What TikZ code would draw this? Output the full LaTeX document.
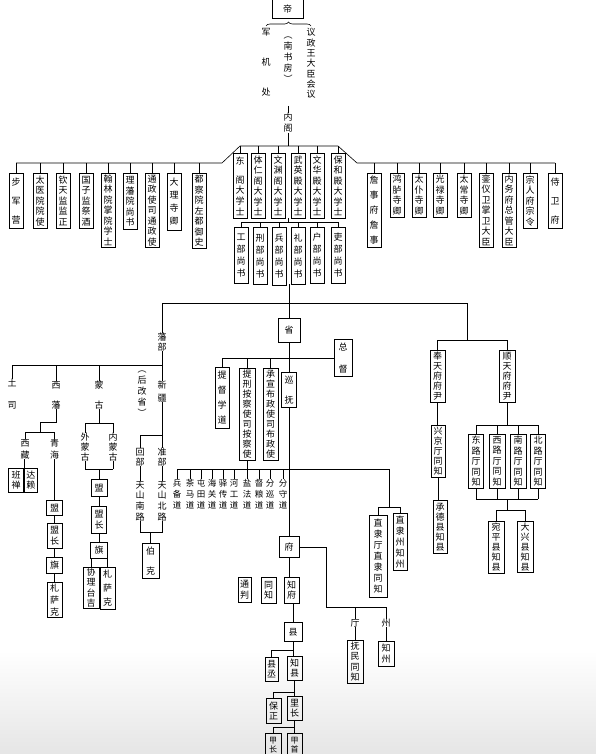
\documentclass[tikz,border=0pt]{standalone}
\usepackage{fontspec}
\newfontfamily\zh{Noto Sans CJK SC}
\usetikzlibrary{positioning,decorations.pathreplacing}
\tikzset{
  link/.style={draw=black,line width=.6pt},
  box/.style={draw=black,line width=.6pt,inner sep=0pt,minimum width=14pt,
              align=center,anchor=north,font=\zh\fontsize{9}{10.5}\selectfont},
  tag/.style={inner sep=0pt,align=center,font=\zh\fontsize{9}{10.5}\selectfont},
  pitch/.style={font=\zh\fontsize{9}{#1}\selectfont},
  daotag/.style={inner sep=0pt,align=center,font=\zh\fontsize{8.5}{11}\selectfont},
  topbrace/.style={decorate,decoration={brace,amplitude=4pt},line width=.6pt},
}
\begin{document}
\begin{tikzpicture}[x=1pt,y=-1pt]
  \useasboundingbox (0,0) rectangle (596,754);
  \clip (0,0) rectangle (596,754);
  \shade[top color=white,bottom color=black!10] (0,650) rectangle (596,754);

  % emperor and councils
  \node[box,minimum width=31pt,minimum height=19pt] (di) at (287.5,-1) {帝};
  \coordinate (brL) at (266,26);
  \coordinate (brR) at (311,26);
  \draw[topbrace] (brL) -- (brR);
  \node[tag,pitch=30pt] (jjc) at (266,62) {军\\机\\处};
  \node[tag,pitch=11pt] (nsf) at (288,60) {︵\\南\\书\\房\\︶};
  \node[tag,pitch=10.3pt] (yzw) at (311,63.5) {议\\政\\王\\大\\臣\\会\\议};
  \node[tag,pitch=11pt] (nei) at (288,123) {内\\阁};
  \coordinate (neiTop) at (288,106);
  \draw[link] (neiTop) -- (nei.north);

  \coordinate (busT) at (0,146);
  \coordinate (busW) at (0,163);
  \coordinate (busL) at (0,222);
  \coordinate (kinkL) at (222,163);
  \coordinate (kinkR) at (357,163);

  % capital offices, left
  \node[box,minimum height=55pt,pitch=19pt] (bjy) at (16,173) {步\\军\\营};
  \node[box,minimum height=55pt] (tyy) at (40,173) {太\\医\\院\\院\\使};
  \node[box,minimum height=55pt] (qtj) at (63,173) {钦\\天\\监\\监\\正};
  \node[box,minimum height=55pt] (gzj) at (86,173) {国\\子\\监\\祭\\酒};
  \node[box,minimum height=74pt] (hly) at (108,173) {翰\\林\\院\\掌\\院\\学\\士};
  \node[box,minimum height=56pt] (lfy) at (130,173) {理\\藩\\院\\尚\\书};
  \node[box,minimum height=74pt] (tzs) at (152,173) {通\\政\\使\\司\\通\\政\\使};
  \node[box,minimum height=57pt,pitch=13pt] (dls) at (174,173) {大\\理\\寺\\卿};
  \node[box,minimum height=75pt] (dcy) at (199,173) {都\\察\\院\\左\\都\\御\\史};

  % grand secretaries
  \node[box,minimum height=65pt] (dg) at (240,153) {东\\[9pt]阁\\大\\学\\士};
  \node[box,minimum height=65pt] (trg) at (258,153) {体\\仁\\阁\\大\\学\\士};
  \node[box,minimum height=65pt] (wyg) at (278,153) {文\\渊\\阁\\大\\学\\士};
  \node[box,minimum height=65pt] (wyd) at (298,153) {武\\英\\殿\\大\\学\\士};
  \node[box,minimum height=65pt] (whd) at (317,153) {文\\华\\殿\\大\\学\\士};
  \node[box,minimum height=65pt] (bhd) at (338,153) {保\\和\\殿\\大\\学\\士};

  % six boards
  \node[box,minimum height=56pt,pitch=12pt] (gb) at (241,227) {工\\部\\尚\\书};
  \node[box,minimum height=57pt,pitch=12pt] (xb) at (260,227) {刑\\部\\尚\\书};
  \node[box,minimum height=58pt,pitch=12pt] (bb) at (279,227) {兵\\部\\尚\\书};
  \node[box,minimum height=57pt,pitch=12pt] (lb) at (298,227) {礼\\部\\尚\\书};
  \node[box,minimum height=56pt,pitch=12pt] (hb) at (317,227) {户\\部\\尚\\书};
  \node[box,minimum height=56pt,pitch=12pt] (lib) at (338,227) {吏\\部\\尚\\书};

  % capital offices, right
  \node[box,minimum height=74pt,pitch=15pt] (zsf) at (374,173) {詹\\事\\府\\詹\\事};
  \node[box,minimum height=44pt] (hlg) at (397,173) {鸿\\胪\\寺\\卿};
  \node[box,minimum height=44pt] (tps) at (419,173) {太\\仆\\寺\\卿};
  \node[box,minimum height=44pt] (gls) at (440,173) {光\\禄\\寺\\卿};
  \node[box,minimum height=44pt] (tcs) at (464,173) {太\\常\\寺\\卿};
  \node[box,minimum height=74pt] (lyw) at (486,173) {銮\\仪\\卫\\掌\\卫\\大\\臣};
  \node[box,minimum height=74pt] (nwf) at (509,173) {内\\务\\府\\总\\管\\大\\臣};
  \node[box,minimum height=55pt] (zrf) at (530,173) {宗\\人\\府\\宗\\令};
  \node[box,minimum height=55pt,pitch=19pt] (swf) at (555,173) {侍\\卫\\府};

  \draw[link] (bjy.north |- busW) -- (kinkL) -- (dg.north |- busT)
      -- (bhd.north |- busT) -- (kinkR) -- (swf.north |- busW);
  \foreach \n in {bjy,tyy,qtj,gzj,hly,lfy,tzs,dls,dcy,zsf,hlg,tps,gls,tcs,lyw,nwf,zrf,swf}
    \draw[link] (\n.north) -- (\n.north |- busW);
  \foreach \n in {dg,trg,wyg,wyd,whd,bhd}
    \draw[link] (\n.north) -- (\n.north |- busT);
  \draw[link] (nei.south) -- (nei.south |- busT);
  \coordinate (gsFoot) at (288,218);
  \draw[link] (gsFoot) -- (gsFoot |- busL);
  \draw[link] (gb.north |- busL) -- (lib.north |- busL);
  \foreach \n in {gb,xb,bb,lb,hb,lib}
    \draw[link] (\n.north) -- (\n.north |- busL);

  % provinces and dependencies
  \coordinate (hub) at (289,284);
  \coordinate (lbL) at (162,303);
  \coordinate (lbR) at (467,303);
  \draw[link] (lbL) -- (lbR);
  \node[box,minimum width=22pt,minimum height=24pt] (sheng) at (289,318) {省};
  \draw[link] (hub) -- (sheng.north);

  % dependencies
  \node[tag,pitch=10pt] (fanbu) at (162,342) {藩\\部};
  \draw[link] (lbL) -- (fanbu.north);
  \coordinate (fbBus) at (0,365);
  \node[tag,pitch=22pt] (tusi) at (12,394) {土\\司};
  \node[tag,pitch=20pt] (xifan) at (56,395) {西\\藩};
  \node[tag,pitch=20pt] (menggu) at (99,395) {蒙\\古};
  \node[tag,pitch=11pt] (hgs) at (142,394) {︵\\后\\改\\省\\︶};
  \node[tag,pitch=13pt] (xinjiang) at (162,391.5) {新\\疆};
  \draw[link] (fanbu.south) -- (xinjiang.north);
  \draw[link] (tusi.north |- fbBus) -- (fanbu.south |- fbBus);
  \foreach \n in {tusi,xifan,menggu}
    \draw[link] (\n.north) -- (\n.north |- fbBus);

  \coordinate (xfKnee) at (40,422);
  \coordinate (xfBus) at (0,432);
  \draw[link] (xifan.south) |- (xfKnee) -- (xfKnee |- xfBus);
  \node[tag,pitch=12pt] (xizang) at (25,449) {西\\藏};
  \node[tag,pitch=12pt] (qinghai) at (54.5,449) {青\\海};
  \draw[link] (xizang.north |- xfBus) -- (qinghai.north |- xfBus);
  \foreach \n in {xizang,qinghai}
    \draw[link] (\n.north) -- (\n.north |- xfBus);
  \node[box,minimum width=15pt,minimum height=24pt,anchor=north east] (bc) at (24,468) {班\\禅};
  \node[box,minimum width=13pt,minimum height=24pt,anchor=north west] (dl) at (24,468) {达\\赖};
  \draw[link] (bc.north east |- xizang.south) -- (bc.north east);
  \node[box,minimum width=16pt,minimum height=15pt] (m1) at (54.5,500) {盟};
  \node[box,minimum width=15pt,minimum height=25pt] (mz1) at (54.5,523) {盟\\长};
  \node[box,minimum width=16pt,minimum height=16pt] (q1) at (54.5,557) {旗};
  \node[box,minimum width=15pt,minimum height=35pt,pitch=12pt] (zsk1) at (54.5,582) {札\\萨\\克};
  \draw[link] (qinghai.south) -- (m1.north);
  \draw[link] (m1) -- (mz1);
  \draw[link] (mz1) -- (q1);
  \draw[link] (q1) -- (zsk1);

  \coordinate (mgBus) at (0,423);
  \coordinate (mgFoot) at (0,469);
  \node[tag,pitch=10pt] (wmg) at (85,447) {外\\蒙\\古};
  \node[tag,pitch=10pt] (nmg) at (113,447) {内\\蒙\\古};
  \draw[link] (menggu.south) -- (menggu.south |- mgBus);
  \draw[link] (wmg.north |- mgBus) -- (nmg.north |- mgBus);
  \foreach \n in {wmg,nmg} {
    \draw[link] (\n.north) -- (\n.north |- mgBus);
    \draw[link] (\n.south) -- (\n.south |- mgFoot);
  }
  \draw[link] (wmg.south |- mgFoot) -- (nmg.south |- mgFoot);
  \node[box,minimum width=16pt,minimum height=17pt] (m2) at (99,479) {盟};
  \draw[link] (menggu.south |- mgFoot) -- (m2.north);
  \node[box,minimum width=15pt,minimum height=27pt] (mz2) at (99,506) {盟\\长};
  \node[box,minimum width=17pt,minimum height=16pt] (q2) at (99,542) {旗};
  \node[box,minimum width=16pt,minimum height=41pt] (xltj) at (91,567) {协\\理\\台\\吉};
  \node[box,minimum width=15pt,minimum height=42pt,pitch=14pt] (zsk2) at (107.5,567) {札\\萨\\克};
  \draw[link] (m2) -- (mz2);
  \draw[link] (mz2) -- (q2);
  \foreach \n in {xltj,zsk2}
    \draw[link] (\n.north |- q2.south) -- (\n.north);

  \coordinate (xjBus) at (0,435);
  \coordinate (xjFoot) at (0,532);
  \node[tag,pitch=10pt] (huibu) at (140,457) {回\\部};
  \node[tag,pitch=10pt] (zhunbu) at (162,457) {准\\部};
  \draw[link] (xinjiang.south) -- (zhunbu.north);
  \draw[link] (huibu.north) -- (huibu.north |- xjBus) -- (zhunbu.north |- xjBus);
  \node[tag,pitch=10.7pt] (tsnl) at (140,501) {天\\山\\南\\路};
  \node[tag,pitch=10.7pt] (tsbl) at (162,501) {天\\山\\北\\路};
  \draw[link] (huibu) -- (tsnl);
  \draw[link] (zhunbu) -- (tsbl);
  \draw[link] (tsnl.south) -- (tsnl.south |- xjFoot) -- (tsbl.south |- xjFoot) -- (tsbl.south);
  \node[box,minimum width=17pt,minimum height=35pt,pitch=20pt] (bk) at (150.5,543) {伯\\克};
  \draw[link] (bk.north |- xjFoot) -- (bk.north);

  % province
  \node[box,minimum width=18pt,minimum height=37pt,pitch=22pt,anchor=center] (zd) at (343,358) {总\\督};
  \node[box,minimum height=61pt,pitch=15pt] (tdx) at (222,367) {提\\督\\学\\道};
  \node[box,minimum width=16pt,minimum height=92pt,pitch=10pt] (txa) at (247,368) {提\\刑\\按\\察\\使\\司\\按\\察\\使};
  \node[box,minimum width=15pt,minimum height=92pt,pitch=10pt] (cxb) at (270.5,368) {承\\宣\\布\\政\\使\\司\\布\\政\\使};
  \node[box,minimum width=15pt,minimum height=35pt,pitch=20pt] (xf) at (289,372) {巡\\抚};
  \draw[link] (sheng) -- (xf);
  \draw[link] (tdx.north |- zd.west) -- (zd.west);
  \foreach \n in {tdx,txa,cxb}
    \draw[link] (\n.north) -- (\n.north |- zd.west);

  \coordinate (daoBus) at (0,469);
  \coordinate (zlTurn) at (389,469);
  \foreach \x/\t [count=\i] in {177/兵\\备\\道,190/茶\\马\\道,201/屯\\田\\道,212/海\\关\\道,
      223/驿\\传\\道,234/河\\工\\道,247/盐\\法\\道,259/督\\粮\\道,270/分\\巡\\道,283/分\\守\\道}
    \node[daotag] (dao\i) at (\x,494) {\t};
  \draw[link] (dao1.north |- daoBus) -- (zlTurn);
  \foreach \i in {1,...,10}
    \draw[link] (dao\i.north) -- (dao\i.north |- daoBus);
  \draw[link] (txa.south) -- (txa.south |- daoBus);

  \coordinate (zlBus) at (0,507);
  \node[box,minimum width=18pt,minimum height=82pt,pitch=11pt] (zlt) at (378,515) {直\\隶\\厅\\直\\隶\\同\\知};
  \node[box,minimum height=57pt,pitch=11pt] (zlz) at (400,513) {直\\隶\\州\\知\\州};
  \draw[link] (zlTurn) -- (zlTurn |- zlBus);
  \draw[link] (zlt.north) -- (zlt.north |- zlBus) -- (zlz.north |- zlBus) -- (zlz.north);

  % prefecture and county
  \node[box,minimum width=20pt,minimum height=21pt] (fu) at (289,536) {府};
  \draw[link] (xf.south) -- (fu.north);
  \node[box,minimum width=13pt,minimum height=25pt] (tp) at (244.5,577) {通\\判};
  \node[box,minimum width=15pt,minimum height=26pt] (tz) at (268.5,577) {同\\知};
  \node[box,minimum width=15pt,minimum height=26pt] (zf) at (291.5,577) {知\\府};
  \draw[link] (fu.south) -- (fu.south |- zf.north);

  \coordinate (tzL) at (326,607);
  \node[tag] (ting) at (355,623) {厅};
  \node[tag] (zhou) at (386,623) {州};
  \draw[link] (fu.east) -| (tzL) -- (zhou.north |- tzL);
  \foreach \n in {ting,zhou}
    \draw[link] (\n.north) -- (\n.north |- tzL);
  \node[box,minimum width=16pt,minimum height=43pt] (fmtz) at (355,640) {抚\\民\\同\\知};
  \node[box,minimum width=16pt,minimum height=25pt] (zz) at (386,641) {知\\州};
  \draw[link] (ting) -- (fmtz);
  \draw[link] (zhou) -- (zz);

  \node[box,minimum width=18pt,minimum height=19pt] (xian) at (293,622) {县};
  \draw[link] (xian.north |- zf.south) -- (xian.north);
  \node[box,minimum width=13pt,minimum height=24pt] (xc) at (271.5,657) {县\\丞};
  \node[box,minimum width=15pt,minimum height=24pt] (zx) at (294.5,656) {知\\县};
  \draw[link] (xian.south) -- (xian.south |- zx.north);
  \coordinate (xcBus) at (293,650);
  \draw[link] (xcBus) -| (xc.north);
  \node[box,minimum width=15pt,minimum height=25pt] (bz) at (273.5,698) {保\\正};
  \node[box,minimum width=15pt,minimum height=24pt] (lz) at (294.5,696) {里\\长};
  \draw[link] (zx) -- (lz);
  \coordinate (bzBus) at (294.5,692);
  \draw[link] (bzBus) -| (bz.north);
  \node[box,minimum width=16pt,minimum height=24pt,font=\zh\fontsize{8}{8.5}\selectfont] (jz) at (273,733) {甲\\长};
  \node[box,minimum width=15pt,minimum height=24pt,font=\zh\fontsize{8}{8.5}\selectfont] (js) at (294.5,733) {甲\\首};
  \draw[link] (lz) -- (js);
  \coordinate (jzBus) at (294.5,727);
  \draw[link] (jzBus) -| (jz.north);

  % metropolitan prefectures
  \coordinate (fsBus) at (0,340);
  \draw[link] (lbR) -- (lbR |- fsBus);
  \node[box,minimum width=15pt,minimum height=52pt,pitch=10pt] (fty) at (437.5,350) {奉\\天\\府\\府\\尹};
  \node[box,minimum width=16pt,minimum height=52pt,pitch=10pt] (sty) at (507,350) {顺\\天\\府\\府\\尹};
  \draw[link] (fty.north) -- (fty.north |- fsBus) -- (sty.north |- fsBus) -- (sty.north);
  \node[box,minimum height=52pt,pitch=10pt] (xjt) at (438,425) {兴\\京\\厅\\同\\知};
  \node[box,minimum height=53pt,pitch=10pt] (cdx) at (440,500) {承\\德\\县\\知\\县};
  \draw[link] (fty.south) -- (fty.south |- xjt.north);
  \draw[link] (xjt.south) -- (xjt.south |- cdx.north);

  \coordinate (lBus) at (0,425);
  \coordinate (lFoot) at (0,499);
  \coordinate (xBus) at (0,510);
  \node[box,minimum width=15pt,minimum height=54pt] (dlt) at (476,434) {东\\路\\厅\\同\\知};
  \node[box,minimum width=16pt,minimum height=54pt] (xlt) at (497,434) {西\\路\\厅\\同\\知};
  \node[box,minimum width=16pt,minimum height=54pt] (nlt) at (518,434) {南\\路\\厅\\同\\知};
  \node[box,minimum width=15pt,minimum height=54pt] (blt) at (538,434) {北\\路\\厅\\同\\知};
  \draw[link] (sty.south) -- (sty.south |- lBus);
  \draw[link] (dlt.north |- lBus) -- (blt.north |- lBus);
  \foreach \n in {dlt,xlt,nlt,blt} {
    \draw[link] (\n.north) -- (\n.north |- lBus);
    \draw[link] (\n.south) -- (\n.south |- lFoot);
  }
  \draw[link] (dlt.south |- lFoot) -- (blt.south |- lFoot);
  \coordinate (lMid) at (507,499);
  \draw[link] (lMid) -- (lMid |- xBus);
  \node[box,minimum width=16pt,minimum height=52pt,pitch=10pt] (wpx) at (496,521) {宛\\平\\县\\知\\县};
  \node[box,minimum width=16pt,minimum height=51pt,pitch=10pt] (dxx) at (525,521) {大\\兴\\县\\知\\县};
  \draw[link] (wpx.north) -- (wpx.north |- xBus) -- (dxx.north |- xBus) -- (dxx.north);
\end{tikzpicture}
\end{document}
